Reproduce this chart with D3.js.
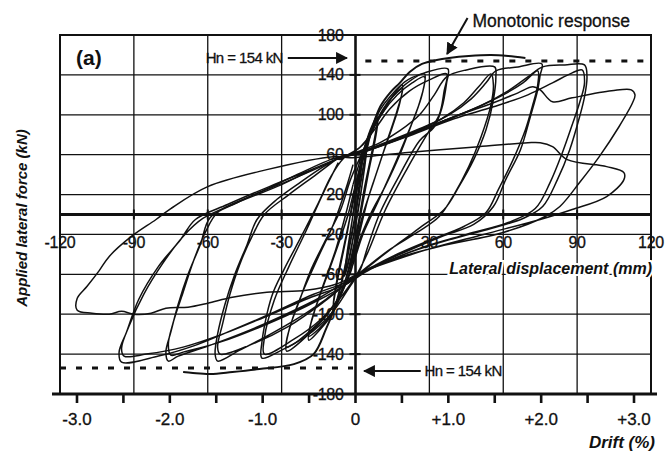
<!DOCTYPE html>
<html>
<head>
<meta charset="utf-8">
<script src="https://cdn.jsdelivr.net/npm/d3@7"></script>
<style>
body { margin: 0; background: #fff; }
text { font-family: 'Liberation Sans', Arial, sans-serif; fill: #111; }
</style>
</head>
<body>
<div id="graph"></div>
<script>
// lateral displacement (mm) vs applied lateral force (kN)
var xTicks = [-120, -90, -60, -30, 30, 60, 90, 120]
var yTicks = [180, 140, 100, 60, 20, -20, -60, -100, -140, -180]
var driftTicks = [-3, -2.5, -2, -1.5, -1, -0.5, 0, 0.5, 1, 1.5, 2, 2.5, 3]
var driftLabels = {'-3': '-3.0', '-2': '-2.0', '-1': '-1.0', '0': '0', '1': '+1.0', '2': '+2.0', '3': '+3.0'}
var wallHeight = 3770 // mm, drift = disp / height
var Hn = 154

var cycle01 = [[0,0],[1.5,30],[3,55],[4.5,68],[3.5,45],[1.5,10],[-1,-25],[-3,-50],[-4.5,-62],[-3.5,-40],[-1.5,-8],[0.5,25],[2.5,50],[4.5,65],[3,35],[1,5],[-1.5,-30],[-4,-58],[-3,-35],[-1,0]]

var cycle025 = [[-1,0],[1,30],[3,55],[5,75],[7,88],[9,98],[8,80],[6,55],[3.5,25],[1,-10],[-1.5,-40],[-4,-65],[-6.5,-82],[-9,-95],[-8,-75],[-6,-50],[-3.5,-20],[-1,15],[1.5,45],[4,70],[7,88],[9,95],[8,75],[5.5,45],[3,12],[0.5,-22],[-2,-50],[-5,-72],[-9,-92],[-7.5,-65],[-5,-35],[-2,0]]

var cycle05 = [[-2,0],[1,35],[3,60],[6,85],[10,105],[14,118],[19,130],[18,112],[15,88],[11,60],[7,30],[3,0],[0,-30],[-2.5,-58],[-6,-82],[-10,-102],[-15,-117],[-19,-126],[-18,-108],[-15,-85],[-11,-58],[-7,-30],[-3,0],[0,30],[3,57],[7,85],[11,105],[15,118],[19,126],[17,105],[13,75],[9,45],[5,15],[1.5,-20],[-1.5,-50],[-5,-75],[-10,-100],[-15,-115],[-19,-122],[-17,-100],[-13,-70],[-8,-35],[-4,0],[-1,30]]

var cycle075 = [[-1,30],[2,55],[5,75],[9,95],[14,115],[20,130],[28,141],[27,120],[23,92],[18,60],[12,28],[6,0],[1,-30],[-2,-58],[-6,-80],[-12,-102],[-19,-120],[-28,-137],[-27,-116],[-23,-88],[-18,-55],[-12,-25],[-6,5],[-2,35],[2,58],[6,80],[11,102],[17,120],[23,132],[28,138],[26,112],[21,80],[15,45],[9,12],[3,-20],[-1,-50],[-5,-75],[-11,-98],[-19,-118],[-28,-133],[-26,-108],[-21,-75],[-15,-42],[-9,-10],[-4,25],[-1,50]]

var cycle10 = [[-6,55],[3,70],[8,90],[12,106],[16,122],[20,133],[28,142],[37.5,146],[37,132],[35,106],[32,88],[26,74],[18,40],[10,2],[5,-32],[2,-55],[-3,-75],[-10,-100],[-20,-122],[-30,-136],[-38,-144],[-38,-128],[-34,-82],[-29,-55],[-22,-22],[-15,12],[-10,38],[-5,56],[2,68],[8,86],[14,106],[22,124],[30,135],[37,141],[36,124],[34,100],[29,80],[21,46],[12,4],[5,-38],[1,-58],[-5,-80],[-14,-105],[-25,-125],[-37,-140],[-37,-124],[-33,-86],[-27,-52],[-20,-16],[-13,22],[-7,52]]

var cycle15 = [[-7,57],[2,64],[10,72],[18,84],[26,100],[32,120],[37,138],[45,145],[56.5,148],[57,138],[56,115],[53,85],[48,55],[42,28],[36,5],[28,-10],[18,-28],[9,-45],[3,-57],[-3,-68],[-12,-85],[-24,-105],[-36,-122],[-47,-136],[-56,-147],[-57,-140],[-56,-120],[-53,-90],[-49,-60],[-44,-30],[-40,-5],[-32,15],[-22,33],[-13,48],[-8,55],[3,63],[14,73],[25,84],[35,96],[44,112],[50,128],[55,141],[56,130],[55,110],[51,78],[46,48],[40,20],[34,-2],[25,-18],[14,-35],[5,-52],[-2,-66],[-13,-88],[-27,-112],[-42,-130],[-55,-140],[-56,-133],[-54,-110],[-51,-80],[-47,-50],[-42,-22],[-37,0],[-27,20],[-16,40],[-8,55]]

var cycle20 = [[-9,56],[2,63],[14,74],[26,86],[38,100],[47,116],[53,132],[57,144],[66,148],[75.7,151],[75,140],[74,125],[71,98],[67,65],[61,35],[56,8],[48,-10],[35,-22],[18,-40],[4,-56],[-3,-66],[-15,-84],[-30,-102],[-45,-118],[-60,-132],[-72,-142],[-76,-147],[-77,-138],[-75,-118],[-72,-90],[-68,-60],[-63,-30],[-59,-3],[-48,12],[-35,27],[-22,42],[-9,56],[4,64],[18,76],[34,92],[48,106],[60,120],[68,132],[74,144],[74,130],[72,110],[69,85],[64,55],[58,25],[53,2],[44,-12],[30,-26],[15,-42],[3,-58],[-5,-72],[-20,-92],[-38,-112],[-55,-128],[-70,-138],[-75,-141],[-76,-130],[-74,-108],[-70,-78],[-66,-48],[-61,-18],[-56,2],[-43,18],[-28,33],[-14,48],[-7,56]]

var cycle25 = [[-8,57],[4,64],[18,76],[34,92],[50,108],[62,124],[70,138],[76,148],[85,150],[93,150],[94,138],[93,118],[91,98],[87,65],[82,35],[76,8],[68,-4],[55,-14],[40,-24],[22,-38],[4,-57],[-4,-68],[-17,-80],[-34,-99],[-52,-118],[-66,-132],[-80,-142],[-95,-148],[-96,-138],[-93,-118],[-88,-85],[-80,-52],[-71,-25],[-65,-5],[-52,10],[-35,28],[-18,45],[-7,56],[6,65],[22,79],[40,96],[56,108],[70,120],[80,132],[88,142],[92,145],[93,132],[91,112],[88,90],[84,62],[79,32],[73,6],[62,-8],[45,-20],[26,-34],[6,-55],[-4,-70],[-19,-84],[-37,-103],[-54,-120],[-70,-133],[-85,-140],[-94,-142],[-95,-134],[-92,-112],[-86,-80],[-78,-48],[-70,-22],[-62,-4],[-48,12],[-30,30],[-15,48],[-7,56]]

var cycle30 = [[-7,56],[6,65],[22,80],[40,98],[56,112],[66,122],[72,128],[75,125],[80,113],[88,117],[104,124],[112,125],[113.5,120],[112.5,112],[107,88],[99,58],[91,32],[83,8],[77,-2],[60,-18],[34,-32],[15,-45],[3,-57],[-8,-70],[-20,-76],[-36,-78],[-50,-83],[-60,-89],[-68,-93],[-77,-94],[-83,-99],[-90,-100],[-95,-97],[-100,-100],[-107,-99],[-113,-96],[-113,-84],[-109,-72],[-104,-56],[-100,-42],[-91,-22],[-81,-5],[-75,6],[-60,28],[-36,45],[-9,58],[-2,57],[20,62],[50,68],[70,72],[75,72],[80,68],[86,55],[102,48],[109,42],[109,35],[102,18],[88,5],[75,-5],[52,-20],[28,-36],[4,-56]]

var monotonicPos = [[0,0],[3,45],[6,80],[10,108],[14,122],[18,132],[22,143],[27,151],[33,155],[38,157],[46,159],[55,160],[62,159],[69,157]]
var monotonicNeg = [[0,0],[-4,-50],[-8,-90],[-12,-115],[-17,-140],[-25,-150],[-39,-155],[-50,-158],[-59,-160],[-66,-159],[-70,-158]]

var cycles = [cycle01, cycle025, cycle05, cycle075, cycle10, cycle15, cycle20, cycle25, cycle30]

var width = 666, height = 453
var svg = d3.select('#graph').append('svg').attr('width', width).attr('height', height)

var x = d3.scaleLinear().domain([-120, 120]).range([60, 651])
var y = d3.scaleLinear().domain([-180, 180]).range([394, 35])
var drift = d3.scaleLinear().domain(x.domain().map(d => d / wallHeight * 100)).range(x.range())

var ink = '#111'

// grid
svg.selectAll('line.vgrid').data(xTicks).enter().append('line')
  .attr('x1', d => x(d)).attr('x2', d => x(d)).attr('y1', y(180)).attr('y2', y(-180))
  .attr('stroke', ink).attr('stroke-width', 1.3)
svg.selectAll('line.hgrid').data(yTicks).enter().append('line')
  .attr('x1', x(-120)).attr('x2', x(120)).attr('y1', d => y(d)).attr('y2', d => y(d))
  .attr('stroke', ink).attr('stroke-width', 1.3)

svg.append('rect').attr('x', x(-120)).attr('y', y(180)).attr('width', x(120) - x(-120)).attr('height', y(-180) - y(180))
  .attr('fill', 'none').attr('stroke', ink).attr('stroke-width', 2)

// zero axes
svg.append('line').attr('x1', x(-120)).attr('x2', x(120)).attr('y1', y(0)).attr('y2', y(0)).attr('stroke', ink).attr('stroke-width', 3)
svg.append('line').attr('x1', x(0)).attr('x2', x(0)).attr('y1', y(180)).attr('y2', y(-180)).attr('stroke', ink).attr('stroke-width', 2.6)

svg.selectAll('line.xtick').data(xTicks).enter().append('line')
  .attr('x1', d => x(d)).attr('x2', d => x(d)).attr('y1', y(0) - 5).attr('y2', y(0) + 5)
  .attr('stroke', ink).attr('stroke-width', 2)
svg.selectAll('line.ytick').data(yTicks).enter().append('line')
  .attr('x1', x(0) - 6).attr('x2', x(0) + 5).attr('y1', d => y(d)).attr('y2', d => y(d))
  .attr('stroke', ink).attr('stroke-width', 2)

// drift axis
svg.append('line').attr('x1', 52).attr('x2', 657).attr('y1', y(-180)).attr('y2', y(-180)).attr('stroke', ink).attr('stroke-width', 3)
svg.selectAll('line.dtick').data(driftTicks).enter().append('line')
  .attr('x1', d => drift(d)).attr('x2', d => drift(d)).attr('y1', y(-180)).attr('y2', y(-180) + 9)
  .attr('stroke', ink).attr('stroke-width', 2.6)
svg.selectAll('text.dlabel').data(driftTicks.filter(d => driftLabels[d] != null)).enter().append('text')
  .attr('x', d => drift(d)).attr('y', y(-180) + 31).attr('text-anchor', 'middle')
  .attr('stroke', ink).attr('stroke-width', 0.3)
  .style('font-size', '17px').text(d => driftLabels[d])

// hysteresis loops
var line = d3.line().x(d => x(d[0])).y(d => y(d[1])).curve(d3.curveCatmullRom.alpha(0.5))

svg.selectAll('path.loop').data(cycles).enter().append('path')
  .attr('d', line).attr('fill', 'none').attr('stroke', ink).attr('stroke-width', 1.5).attr('stroke-linejoin', 'round')
svg.selectAll('path.mono').data([monotonicPos, monotonicNeg]).enter().append('path')
  .attr('d', line).attr('fill', 'none').attr('stroke', ink).attr('stroke-width', 2)

// Hn lines
svg.append('line').attr('x1', x(4)).attr('x2', x(120)).attr('y1', y(Hn)).attr('y2', y(Hn))
  .attr('stroke', ink).attr('stroke-width', 3).attr('stroke-dasharray', '6,10')
svg.append('line').attr('x1', x(-120)).attr('x2', x(-1)).attr('y1', y(-Hn)).attr('y2', y(-Hn))
  .attr('stroke', ink).attr('stroke-width', 3).attr('stroke-dasharray', '6,10')

svg.append('defs').append('marker').attr('id', 'head')
  .attr('viewBox', '0 0 10 10').attr('refX', 9).attr('refY', 5)
  .attr('markerWidth', 12).attr('markerHeight', 12).attr('markerUnits', 'userSpaceOnUse').attr('orient', 'auto')
  .append('path').attr('d', 'M0,0L10,5L0,10Z').attr('fill', ink)

svg.append('line').attr('x1', x(-27.5)).attr('x2', x(-3.5)).attr('y1', y(157)).attr('y2', y(157))
  .attr('stroke', ink).attr('stroke-width', 2).attr('marker-end', 'url(#head)')
svg.append('text').attr('x', x(-29.5)).attr('y', y(157) + 5).attr('text-anchor', 'end')
  .attr('stroke', ink).attr('stroke-width', 0.3)
  .style('font-size', '15px').style('letter-spacing', '-0.6px').text('Hn = ' + Hn + ' kN')

svg.append('line').attr('x1', x(26.5)).attr('x2', x(3.5)).attr('y1', y(-157)).attr('y2', y(-157))
  .attr('stroke', ink).attr('stroke-width', 2).attr('marker-end', 'url(#head)')
svg.append('text').attr('x', x(28)).attr('y', y(-157) + 5)
  .attr('stroke', ink).attr('stroke-width', 0.3)
  .style('font-size', '15px').style('letter-spacing', '-0.6px').text('Hn = ' + Hn + ' kN')

svg.append('line').attr('x1', x(45.5)).attr('y1', 18).attr('x2', x(37.2)).attr('y2', 54)
  .attr('stroke', ink).attr('stroke-width', 2).attr('marker-end', 'url(#head)')
svg.append('text').attr('x', x(47.5)).attr('y', 27)
  .attr('stroke', ink).attr('stroke-width', 0.3)
  .style('font-size', '17.5px').text('Monotonic response')

// tick labels
svg.selectAll('text.xlabel').data(xTicks).enter().append('text')
  .attr('x', d => x(d)).attr('y', y(0) + 33).attr('text-anchor', 'middle')
  .attr('stroke', ink).attr('stroke-width', 0.3)
  .style('font-size', '16px').style('letter-spacing', '-0.3px').text(d => d)
svg.selectAll('text.ylabel').data(yTicks).enter().append('text')
  .attr('x', x(0) - 12).attr('y', d => y(d) + 5.5).attr('text-anchor', 'end')
  .attr('stroke', ink).attr('stroke-width', 0.3)
  .style('font-size', '16px').style('letter-spacing', '-0.3px').text(d => d)

svg.append('text').attr('x', 76).attr('y', 65).style('font-size', '21px').style('font-weight', 'bold').text('(a)')

svg.append('text').attr('x', 652).attr('y', 274).attr('text-anchor', 'end')
  .style('font-size', '16px').style('font-weight', 'bold').style('font-style', 'italic')
  .attr('stroke', '#fff').attr('stroke-width', 4).attr('paint-order', 'stroke')
  .text('Lateral displacement (mm)')

svg.append('text').attr('transform', 'translate(27,218) rotate(-90)').attr('text-anchor', 'middle')
  .style('font-size', '15px').style('font-weight', 'bold').style('font-style', 'italic')
  .text('Applied lateral force (kN)')

svg.append('text').attr('x', 655).attr('y', 448).attr('text-anchor', 'end')
  .style('font-size', '17px').style('font-weight', 'bold').style('font-style', 'italic')
  .text('Drift (%)')
</script>
</body>
</html>
